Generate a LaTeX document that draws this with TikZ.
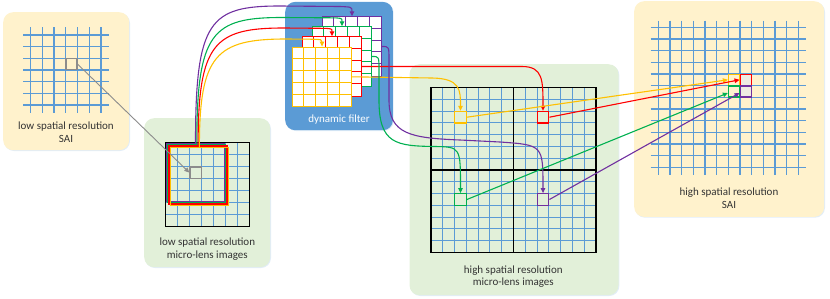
\documentclass[tikz,border=0pt]{standalone}
\usepackage{fontspec}
\setmainfont{Carlito}
\usetikzlibrary{arrows.meta,shadows,calc}
\definecolor{gblue}{HTML}{5B9BD5}
\definecolor{byel}{HTML}{FFF2CC}
\definecolor{bgrn}{HTML}{E2F0D9}
\definecolor{cyel}{HTML}{FFC000}
\definecolor{cred}{HTML}{FF0000}
\definecolor{cgrn}{HTML}{00B050}
\definecolor{cpur}{HTML}{7030A0}
\definecolor{cgray}{HTML}{8C8C8C}
\definecolor{sqfill}{HTML}{EFEBE2}
\newcommand\filtgrid[4]{%
  \node[fbox, draw=#2] (#1) at (#3,#4) {};
  \foreach \k in {1,...,4} {
    \draw[#2, line width=0.9pt] ($(#1.north west)+(11.88*\k,0)$) -- ($(#1.south west)+(11.88*\k,0)$);
    \draw[#2, line width=0.9pt] ($(#1.north west)+(0,11.88*\k)$) -- ($(#1.north east)+(0,11.88*\k)$);
  }}
\begin{document}
\begin{tikzpicture}[x=1pt,y=-1pt,
  panel/.style={rectangle, rounded corners=10pt, draw=none, inner sep=0pt, anchor=north west,
    drop shadow={shadow xshift=0.8pt, shadow yshift=-0.8pt, opacity=0.18, fill=gblue}},
  gridline/.style={draw=gblue, line width=1.3pt},
  thingrid/.style={draw=gblue, line width=1pt},
  lbl/.style={font=\fontsize{11}{12.7}\selectfont, align=center, text=black!80, inner sep=0pt},
  fbox/.style={rectangle, fill=white, line width=1pt, minimum size=59.4pt, inner sep=0pt},
  csq/.style={rectangle, line width=1.3pt, inner sep=0pt},
  conn/.style={line width=1.1pt, -{Triangle[length=5pt,width=4.5pt]}},
  ]
\useasboundingbox (0,0) rectangle (830,298);

% ---------- panels ----------
\node[panel, fill=byel, minimum width=126pt, minimum height=138pt] (p1) at (3,12) {};
\node[panel, fill=bgrn, minimum width=126pt, minimum height=149pt] (p2) at (144,118) {};
\node[panel, fill=gblue, minimum width=107.7pt, minimum height=128.3pt] (p3) at (285,1.7) {};
\node[panel, fill=bgrn, minimum width=209pt, minimum height=231pt] (p4) at (409.3,64) {};
\node[panel, fill=byel, minimum width=190pt, minimum height=215.7pt] (p5) at (634,1) {};

% ---------- low spatial resolution SAI ----------
\foreach \i in {0,...,6} {
  \draw[gridline] ({30.7+11.7*\i},27) -- ({30.7+11.7*\i},113);
  \draw[gridline] (23,{35+11.67*\i}) -- (109,{35+11.67*\i});
}
\node[csq, draw=cgray, fill=byel, minimum size=11pt, line width=1.2pt] (sgs) at (71.55,64.2) {};
\node[lbl] (t1) at (66,132) {low spatial resolution\\SAI};

% ---------- low spatial resolution micro-lens images ----------
\node[rectangle, minimum size=83pt, inner sep=0pt] (lml) at (207.5,184.5) {};
\foreach \i in {1,...,6} {
  \draw[thingrid] ({166+11.857*\i},143) -- ({166+11.857*\i},226);
  \draw[thingrid] (166,{143+11.857*\i}) -- (249,{143+11.857*\i});
}
\draw[black, line width=1.3pt] (lml.north west) rectangle (lml.south east);
\node[csq, draw=cgray, minimum size=11.3pt, line width=1.2pt] (lgs) at (195.6,172.6) {};
\node[csq, draw=cpur, minimum size=58pt] (lp) at (195.5,172.5) {};
\node[csq, draw=cgrn, minimum size=58pt] (lg) at (196.8,173.8) {};
\node[csq, draw=cred, minimum size=58pt] (lr) at (198.1,175.1) {};
\node[csq, draw=cyel, minimum size=58pt] (ly) at (199.4,176.4) {};
\node[lbl] (t2) at (207.3,249.2) {low spatial resolution\\micro-lens images};

% ---------- dynamic filter ----------
\filtgrid{fp}{cpur}{352}{46.5}
\filtgrid{fg}{cgrn}{342}{56.5}
\filtgrid{fr}{cred}{332}{66.5}
\filtgrid{fy}{cyel}{322}{76.8}
\node[lbl, text=white] (t3) at (339,120) {dynamic filter};

% ---------- high spatial resolution micro-lens images ----------
\node[rectangle, minimum size=165pt, inner sep=0pt] (hml) at (513.5,170) {};
\foreach \i in {1,...,13} {
  \draw[thingrid] ({431+11.786*\i},87.5) -- ({431+11.786*\i},252.5);
  \draw[thingrid] (431,{87.5+11.786*\i}) -- (596,{87.5+11.786*\i});
}
\draw[black, line width=1.5pt] (hml.north west) rectangle (hml.south east);
\draw[black, line width=1.5pt] (hml.north) -- (hml.south);
\draw[black, line width=1.5pt] (hml.west) -- (hml.east);
\node[csq, draw=cyel, fill=bgrn, minimum size=11.5pt] (hy) at (460.5,117.2) {};
\node[csq, draw=cred, fill=bgrn, minimum size=11.5pt] (hr) at (543,117.2) {};
\node[csq, draw=cgrn, fill=bgrn, minimum size=11.5pt] (hg) at (460.5,199.5) {};
\node[csq, draw=cpur, fill=bgrn, minimum size=11.5pt] (hp) at (543,199.5) {};
\node[lbl] (t4) at (513.3,276.5) {high spatial resolution\\micro-lens images};

% ---------- high spatial resolution SAI ----------
\foreach \i in {0,...,12} {
  \draw[thingrid, line width=1.2pt] ({658.3+11.667*\i},20.5) -- ({658.3+11.667*\i},175);
  \draw[thingrid, line width=1.2pt] (650.5,{27.3+11.667*\i}) -- (806,{27.3+11.667*\i});
}
\node[csq, draw=cyel, fill=byel, minimum size=11.2pt] (sy) at (734.1,79.8) {};
\node[csq, draw=cgrn, fill=byel, minimum size=11.2pt] (sg) at (734.1,91.5) {};
\node[csq, draw=cred, fill=sqfill, minimum size=11.2pt] (sr) at (745.8,79.8) {};
\node[csq, draw=cpur, fill=sqfill, minimum size=11.2pt] (sp) at (745.8,91.5) {};
\node[lbl] (t5) at (729,198) {high spatial resolution\\SAI};

% ---------- connectors ----------
\draw[conn, cgray, line width=0.9pt] (sgs.east) -- (lgs.west);

\draw[conn, cpur] (lp.north) .. controls (195.5,20) and (210,6) .. (280,6) -- (340,6.5) .. controls (352,7) .. (fp.north);
\draw[conn, cgrn] (lg.north) .. controls (196.8,32) and (212,17.5) .. (282,17.5) -- (331,17.8) .. controls (342,18) .. (fg.north);
\draw[conn, cred] (lr.north) .. controls (198.1,43) and (214,28) .. (284,28) -- (321,28.3) .. controls (332,28.5) .. (fr.north);
\draw[conn, cyel] (ly.north) .. controls (199.4,55) and (216,39) .. (286,39) -- (311,39.2) .. controls (322,39.5) .. (fy.north);

\draw[conn, cred] (fr.east) -- (522,66.5) .. controls (543,66.5) and (543,80) .. (hr.north);
\draw[conn, cyel] (fy.east) -- (432,78) .. controls (460.5,78.5) and (460.5,90) .. (hy.north);
\draw[conn, cgrn] (fg.east) .. controls (379,56.5) .. (379,70) -- (379,100) .. controls (379,144) and (396,146) .. (435,146.5) .. controls (460.5,147) .. (hg.north);
\draw[conn, cpur] (fp.east) .. controls (389,46.5) .. (389,60) -- (389,100) .. controls (389,134) and (410,138) .. (460,140) -- (500,142) .. controls (543,145) .. (hp.north);

\draw[conn] [cyel] (hy.east) -- (sy.west);
\draw[conn] [cred] (hr.east) -- (sr.west);
\draw[conn] [cgrn] (hg.east) -- ($(sg.west)+(0,1.5)$);
\draw[conn] [cpur] (hp.east) -- ($(sp.west)+(0,1.5)$);
\end{tikzpicture}
\end{document}
